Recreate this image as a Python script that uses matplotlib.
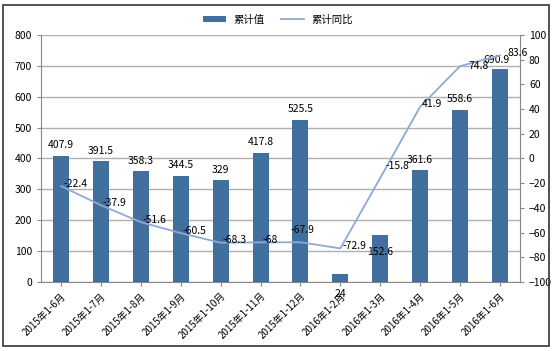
import matplotlib
matplotlib.use("Agg")
import matplotlib.pyplot as plt
from matplotlib.patches import Rectangle

plt.rcParams['font.family'] = ['Noto Sans CJK SC', 'DejaVu Sans']

# DATOS DEL GRAFICO
periodos = ["2015年1-6月", "2015年1-7月", "2015年1-8月", "2015年1-9月", "2015年1-10月",
            "2015年1-11月", "2015年1-12月", "2016年1-2月", "2016年1-3月", "2016年1-4月",
            "2016年1-5月", "2016年1-6月"]
累计值 = [407.9, 391.5, 358.3, 344.5, 329, 417.8, 525.5, 24, 152.6, 361.6, 558.6, 690.9]
累计同比 = [-22.4, -37.9, -51.6, -60.5, -68.3, -68, -67.9, -72.9, -15.8, 41.9, 74.8, 83.6]
etiquetas_barras = ["407.9", "391.5", "358.3", "344.5", "329", "417.8", "525.5", "24",
                    "152.6", "361.6", "558.6", "690.9"]
etiquetas_linea = ["-22.4", "-37.9", "-51.6", "-60.5", "-68.3", "-68", "-67.9", "-72.9",
                   "-15.8", "41.9", "74.8", "83.6"]

color_barra = "#41709f"
color_linea = "#8ea9d8"

fig = plt.figure(figsize=(5.56, 3.51), dpi=100)
ax = fig.add_axes([0.074, 0.197, 0.861, 0.703])
ax2 = ax.twinx()

x = list(range(len(periodos)))
ax.bar(x, 累计值, width=0.4, color=color_barra, zorder=3, label="累计值")
ax2.plot(x, 累计同比, color=color_linea, lw=1.3, zorder=4, label="累计同比")

# ejes
ax.set_ylim(0, 800)
ax.set_yticks(range(0, 801, 100))
ax2.set_ylim(-100, 100)
ax2.set_yticks(range(-100, 101, 20))
ax.set_xlim(-0.5, len(periodos) - 0.5)
ax.set_xticks(x)
ax.set_xticklabels(periodos, rotation=45, ha="right", rotation_mode="anchor", fontsize=7)
ax.tick_params(axis="y", labelsize=7.5, length=3, color="#888888")
ax2.tick_params(axis="y", labelsize=7.5, length=3, color="#888888")
ax.tick_params(axis="x", length=3, color="#888888")
ax.grid(axis="y", color="#b0b0b0", lw=1, zorder=0)
ax.set_axisbelow(True)
for a in (ax, ax2):
    for lado in ["top", "right", "left", "bottom"]:
        a.spines[lado].set_visible(False)
ax.spines["left"].set_visible(True)
ax.spines["left"].set_color("#888888")
ax.spines["bottom"].set_visible(True)
ax.spines["bottom"].set_color("#888888")
ax2.spines["right"].set_visible(True)
ax2.spines["right"].set_color("#888888")

# etiquetas de barras
desplaz = {7: -78, 8: -72, 11: 12}
for i, v in enumerate(累计值):
    dy = desplaz.get(i, 18)
    dx = -0.08 if i == 11 else 0
    ax.text(i + dx, v + dy, etiquetas_barras[i], ha="center", va="bottom", fontsize=7.5, zorder=5)

# etiquetas de linea
for i, v in enumerate(累计同比):
    dy = 2
    dx = 0.05
    if i == 6:
        dx, dy = -0.25, 10
    elif i == 8:
        dx, dy = 0.12, 10
    elif i == 10:
        dx, dy = 0.2, 0
    elif i == 11:
        dx, dy = 0.2, 2
    ax2.text(i + dx, v + dy, etiquetas_linea[i], ha="left", va="center", fontsize=7.5, zorder=5)

# leyenda
h1, l1 = ax.get_legend_handles_labels()
h2, l2 = ax2.get_legend_handles_labels()
fig.legend(h1 + h2, l1 + l2, loc="upper center", bbox_to_anchor=(0.5, 0.985), ncol=2,
           frameon=False, fontsize=7.5, handlelength=2.2, handleheight=0.6, columnspacing=1.5)

# marco
fig.patches.append(Rectangle((0.006, 0.015), 0.982, 0.97, transform=fig.transFigure,
                             fill=False, edgecolor="#333333", lw=1.2))

fig.savefig("out.png", dpi=100)
